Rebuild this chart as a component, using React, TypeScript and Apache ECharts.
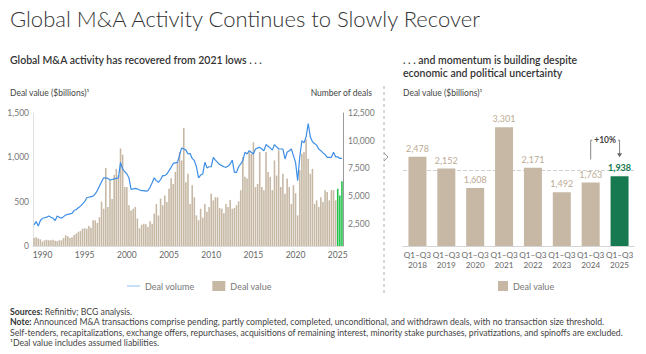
import React, { useEffect, useRef } from "react";
import * as echarts from "echarts";

// ---------- DATA ----------
const startYear = 1989;
const highlightYear = "2025";

// Quarterly deal value ($billions), 1989 Q1 – 2025 Q3
const dealValue = [
  90, 100, 85, 75, // 1989
  50, 65, 70, 65, // 1990
  65, 70, 60, 55, // 1991
  65, 65, 90, 120, // 1992
  110, 90, 100, 125, // 1993
  140, 160, 170, 195, // 1994
  200, 195, 225, 205, // 1995
  290, 290, 260, 325, // 1996
  500, 420, 880, 440, // 1997
  740, 530, 800, 870, // 1998
  800, 1100, 1030, 665, // 1999
  665, 460, 400, 420, // 2000
  440, 310, 200, 240, // 2001
  250, 245, 215, 280, // 2002
  250, 365, 475, 345, // 2003
  535, 460, 570, 495, // 2004
  645, 765, 700, 835, // 2005
  945, 1060, 965, 1330, // 2006
  720, 815, 475, 685, // 2007
  550, 345, 290, 420, // 2008
  320, 475, 385, 440, // 2009
  590, 515, 550, 550, // 2010
  430, 420, 370, 475, // 2011
  440, 520, 420, 430, // 2012
  460, 505, 630, 1005, // 2013
  780, 760, 1060, 1040, // 2014
  1170, 665, 700, 1060, // 2015
  665, 630, 1060, 835, // 2016
  780, 630, 965, 795, // 2017
  1080, 665, 815, 590, // 2018
  760, 665, 475, 685, // 2019
  595, 345, 855, 1040, // 2020
  1060, 1200, 985, 815, // 2021
  870, 475, 515, 440, // 2022
  550, 495, 630, 610, // 2023
  515, 630, 630, 515, // 2024
  645, 570, 730, // 2025
];

// Quarterly number of deals
const dealVolume = [
  2400, 2700, 2300, 2800, // 1989
  3000, 3050, 3100, 3200, // 1990
  3100, 3000, 2800, 3200, // 1991
  3100, 3000, 3150, 3300, // 1992
  3350, 3400, 3450, 3700, // 1993
  3800, 3950, 4100, 4300, // 1994
  4500, 4850, 4900, 4950, // 1995
  5000, 5200, 5500, 5900, // 1996
  6300, 6650, 6650, 6600, // 1997
  6450, 6500, 6550, 6600, // 1998
  6650, 8050, 7450, 7200, // 1999
  7000, 6650, 5600, 5650, // 2000
  5700, 5650, 5550, 5500, // 2001
  5500, 5450, 5500, 5800, // 2002
  6200, 6650, 6400, 6250, // 2003
  6500, 6850, 6850, 7000, // 2004
  7300, 7600, 7950, 8000, // 2005
  8050, 8700, 9350, 9250, // 2006
  9150, 8800, 8850, 8400, // 2007
  8200, 7650, 6650, 6900, // 2008
  7000, 8050, 7550, 7650, // 2009
  7650, 8500, 8250, 8050, // 2010
  7850, 7750, 7650, 7600, // 2011
  7700, 7900, 8250, 7150, // 2012
  7150, 7650, 7900, 8200, // 2013
  8950, 8800, 9100, 8950, // 2014
  8800, 9250, 9350, 9400, // 2015
  9250, 9100, 9650, 9500, // 2016
  9350, 9150, 9650, 9450, // 2017
  9250, 9250, 9250, 8350, // 2018
  8950, 9100, 9250, 8650, // 2019
  8050, 6400, 8550, 10000, // 2020
  9800, 10350, 11550, 10350, // 2021
  9900, 9750, 9600, 9250, // 2022
  9100, 8900, 8750, 8500, // 2023
  8500, 8500, 8950, 8550, // 2024
  8550, 8400, 8400, // 2025
];

const leftYTicks = [0, 500, 1000, 1500];
const rightYTicks = [2500, 5000, 7500, 10000, 12500];

const periodYears = ["2018", "2019", "2020", "2021", "2022", "2023", "2024", "2025"];
const periodValues = [2478, 2152, 1608, 3301, 2171, 1492, 1763, 1938];

const quarterLabels: string[] = dealValue.map(
  (_, i) => `${startYear + Math.floor(i / 4)} Q${(i % 4) + 1}`
);

// ---------- STYLE ----------
const FONT = "Lato, 'Open Sans', sans-serif";
const TAN = "#c6b8a4";
const GREEN_BRIGHT = "#1fc34b";
const GREEN_DARK = "#17794f";
const BLUE = "#3d8ee6";
const fmt = (v: number) => v.toLocaleString("en-US");

export default function App() {
  const ref = useRef<HTMLDivElement>(null);

  useEffect(() => {
    document.body.style.margin = "0";
    const chart = echarts.init(ref.current!, undefined, { renderer: "svg" });

    const option: any = {
      animation: false,
      backgroundColor: "#ffffff",
      textStyle: { fontFamily: FONT },
      grid: [
        { left: 33, right: 303, top: 113, bottom: 108 },
        { left: 403, right: 12, top: 120, bottom: 108 },
      ],
      xAxis: [
        {
          type: "category",
          gridIndex: 0,
          data: quarterLabels,
          axisTick: { show: false },
          axisLine: { lineStyle: { color: "#dcdcdc" } },
          axisLabel: {
            interval: (_: number, v: string) =>
              v.endsWith("Q1") && Number(v.slice(0, 4)) % 5 === 0,
            formatter: (v: string) => v.slice(0, 4),
            color: "#666",
            fontSize: 8.5,
            margin: 4,
            fontFamily: FONT,
          },
        },
        {
          type: "category",
          gridIndex: 1,
          data: periodYears,
          axisTick: { show: false },
          axisLine: { lineStyle: { color: "#d4d4d4" } },
          axisLabel: {
            interval: 0,
            hideOverlap: false,
            formatter: (v: string) => `Q1–Q3\n${v}`,
            color: "#666",
            fontSize: 8.2,
            lineHeight: 10,
            margin: 4,
            fontFamily: FONT,
          },
        },
      ],
      yAxis: [
        {
          type: "value",
          gridIndex: 0,
          min: leftYTicks[0],
          max: leftYTicks[leftYTicks.length - 1],
          interval: 500,
          splitLine: { show: false },
          axisLine: { show: true, lineStyle: { color: "#e2e2e2" } },
          axisTick: { show: false },
          axisLabel: { color: "#777", fontSize: 8.5, margin: 4, formatter: fmt, fontFamily: FONT },
        },
        {
          type: "value",
          gridIndex: 0,
          position: "right",
          min: 500,
          max: 12500,
          splitLine: { show: false },
          axisLine: { show: true, lineStyle: { color: "#9a9a9a" } },
          axisTick: { show: false },
          axisLabel: {
            customValues: rightYTicks,
            color: "#777",
            fontSize: 8.5,
            margin: 5,
            formatter: fmt,
            fontFamily: FONT,
          },
        },
        { type: "value", gridIndex: 1, min: 0, max: 3500, show: false },
      ],
      legend: [
        {
          data: [
            {
              name: "Deal volume",
              icon: "path://M0,0 L13,0 L13,1 L0,1 Z",
              itemStyle: { color: "#8dbdf0" },
            },
            { name: "Deal value", icon: "rect" },
          ],
          left: 122,
          top: 276,
          itemWidth: 13,
          itemHeight: 10,
          itemGap: 18,
          symbolKeepAspect: true,
          textStyle: { color: "#777", fontSize: 9, fontFamily: FONT },
          selectedMode: false,
        },
        {
          data: [{ name: "Deal value", icon: "rect" }],
          left: 493,
          top: 276,
          itemWidth: 10,
          itemHeight: 10,
          textStyle: { color: "#777", fontSize: 9, fontFamily: FONT },
          selectedMode: false,
        },
      ],
      series: [
        {
          name: "Deal value",
          type: "bar",
          xAxisIndex: 0,
          yAxisIndex: 0,
          barCategoryGap: "25%",
          itemStyle: { color: TAN },
          data: dealValue.map((v, i) =>
            quarterLabels[i].startsWith(highlightYear)
              ? { value: v, itemStyle: { color: GREEN_BRIGHT } }
              : v
          ),
        },
        {
          name: "Deal volume",
          type: "line",
          xAxisIndex: 0,
          yAxisIndex: 1,
          symbol: "none",
          z: 3,
          lineStyle: { color: BLUE, width: 1.2 },
          itemStyle: { color: BLUE },
          data: dealVolume,
        },
        {
          name: "Deal value",
          type: "bar",
          xAxisIndex: 1,
          yAxisIndex: 2,
          barWidth: 18,
          itemStyle: { color: TAN },
          label: {
            show: true,
            position: "top",
            distance: 4,
            color: "#bcab94",
            fontSize: 9,
            fontFamily: FONT,
            formatter: (p: any) => fmt(p.value),
          },
          markLine: {
            silent: true,
            symbol: "none",
            label: { show: false },
            lineStyle: { type: "dashed", color: "#d0d0d0", width: 1 },
            data: [{ type: "average" }],
            z: 0,
          },
          data: periodValues.map((v, i) =>
            periodYears[i] === highlightYear
              ? {
                  value: v,
                  itemStyle: { color: GREEN_DARK },
                  label: { color: GREEN_DARK, fontWeight: "bold" },
                }
              : v
          ),
        },
      ],
    };

    chart.setOption(option);

    // annotation bracket computed from the bars' pixel positions
    const n = periodValues.length;
    const pPrev = chart.convertToPixel({ xAxisIndex: 1, yAxisIndex: 2 } as any, [n - 2, periodValues[n - 2]]) as number[];
    const pLast = chart.convertToPixel({ xAxisIndex: 1, yAxisIndex: 2 } as any, [n - 1, periodValues[n - 1]]) as number[];
    const topY = pLast[1] - 36;
    const leftBottom = pPrev[1] - 23;
    const tipY = pLast[1] - 19;
    const growth = Math.round((periodValues[n - 1] / periodValues[n - 2] - 1) * 100);

    const txt = (text: string, x: number, y: number, font: string, fill: string, extra: any = {}) => ({
      type: "text",
      style: { text, x, y, font, fill, textVerticalAlign: "middle", ...extra },
    });
    const NOTE = `8.7px ${FONT}`;
    const SUB = `600 10.5px ${FONT}`;

    const graphic: any[] = [
      txt("Global M&A Activity Continues to Slowly Recover", 10, 18, `300 22px ${FONT}`, "#333"),
      txt("Global M&A activity has recovered from 2021 lows . . .", 10, 60, SUB, "#333"),
      txt(". . . and momentum is building despite", 403, 60, SUB, "#333"),
      txt("economic and political uncertainty", 403, 73, SUB, "#333"),
      txt("Deal value ($billions)¹", 10, 93, `8.5px ${FONT}`, "#444"),
      txt("Number of deals", 372, 93, `8.5px ${FONT}`, "#444", { textAlign: "right" }),
      txt("Deal value ($billions)¹", 403, 93, `8.5px ${FONT}`, "#444"),
      {
        type: "line",
        shape: { x1: 384, y1: 86, x2: 384, y2: 296 },
        style: { stroke: "#b0b0b0", lineWidth: 1, lineDash: [3, 3] },
      },
      {
        type: "polyline",
        shape: { points: [[384, 153], [388, 157], [384, 161]] },
        style: { stroke: "#999", lineWidth: 1, fill: "none" },
      },
      {
        type: "polyline",
        shape: { points: [[pPrev[0], leftBottom], [pPrev[0], topY], [pLast[0], topY], [pLast[0], tipY - 3]] },
        style: { stroke: "#666", lineWidth: 0.8, fill: "none" },
      },
      {
        type: "polygon",
        shape: { points: [[pLast[0] - 2.5, tipY - 4], [pLast[0] + 2.5, tipY - 4], [pLast[0], tipY]] },
        style: { fill: "#666" },
      },
      {
        type: "text",
        style: {
          text: `+${growth}%`,
          x: (pPrev[0] + pLast[0]) / 2,
          y: topY,
          font: `bold 8.5px ${FONT}`,
          fill: "#444",
          textAlign: "center",
          textVerticalAlign: "middle",
          backgroundColor: "#fff",
          padding: [0, 2],
        },
        z: 10,
      },
      {
        type: "text",
        style: {
          text: "{b|Sources:} Refinitiv; BCG analysis.",
          x: 10,
          y: 311,
          font: NOTE,
          fill: "#444",
          textVerticalAlign: "middle",
          rich: { b: { fontWeight: "bold", fontSize: 8.7, fontFamily: FONT, fill: "#333" } },
        },
      },
      {
        type: "text",
        style: {
          text: "{b|Note:} Announced M&A transactions comprise pending, partly completed, completed, unconditional, and withdrawn deals, with no transaction size threshold.",
          x: 10,
          y: 321.5,
          font: NOTE,
          fill: "#444",
          textVerticalAlign: "middle",
          rich: { b: { fontWeight: "bold", fontSize: 8.7, fontFamily: FONT, fill: "#333" } },
        },
      },
      txt(
        "Self-tenders, recapitalizations, exchange offers, repurchases, acquisitions of remaining interest, minority stake purchases, privatizations, and spinoffs are excluded.",
        10, 332, NOTE, "#444"
      ),
      txt("¹Deal value includes assumed liabilities.", 10, 342.5, NOTE, "#444"),
    ];

    chart.setOption({ graphic });

    return () => chart.dispose();
  }, []);

  return (
    <div
      ref={ref}
      style={{ position: "fixed", left: 0, top: 0, width: 646, height: 354 }}
    />
  );
}
